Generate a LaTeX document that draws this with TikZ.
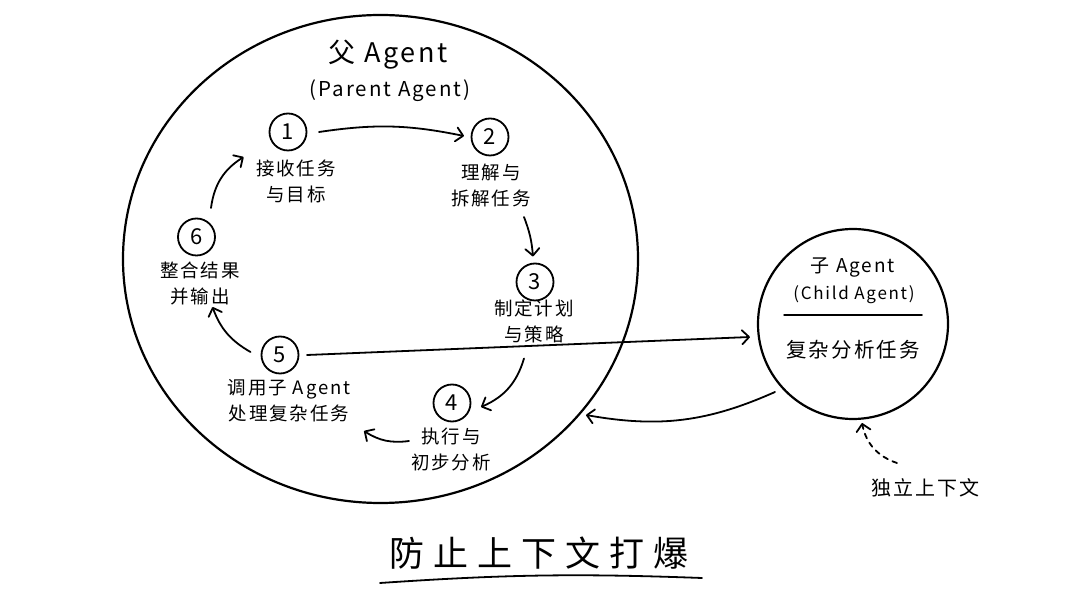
\documentclass[tikz,border=0pt]{standalone}
\usepackage{fontspec}
\setmainfont[LetterSpace=10]{Noto Sans CJK SC}
\usetikzlibrary{arrows.meta,shapes.geometric}
\begin{document}
\begin{tikzpicture}[x=1pt,y=1pt,line cap=round,line join=round,
  arr/.style={line width=1.8pt,-{Straight Barb[length=7pt,width=14pt,round]}},
  dasharr/.style={arr,dash pattern=on 5pt off 5pt},
  numc/.style={circle,draw,line width=1.8pt,minimum size=37pt,inner sep=0pt,font=\fontsize{22}{22}\selectfont},
  lbl/.style={align=center,inner sep=0pt,font=\fontsize{18.5}{26}\selectfont},
]
\useasboundingbox (0,0) rectangle (1080,608);
% parent agent
\node[ellipse,draw,line width=2.2pt,minimum width=515pt,minimum height=488pt,inner sep=0pt] (parent) at (380.5,349) {};
\node[font=\fontsize{27}{27}\selectfont] (ptitle) at (388,553) {父 Agent};
\node[font=\fontsize{20.5}{20.5}\selectfont] (psub) at (390,517) {(Parent Agent)};
% steps
\node[numc] (n1) at (288,476) {1};
\node[numc] (n2) at (490,471) {2};
\node[numc] (n3) at (535,326) {3};
\node[numc] (n4) at (452,205) {4};
\node[numc] (n5) at (280,253) {5};
\node[numc] (n6) at (196.5,371) {6};
\node[lbl] (l1) at (296,427) {接收任务\\与目标};
\node[lbl] (l2) at (491,422.5) {理解与\\拆解任务};
\node[lbl] (l3) at (534,286.5) {制定计划\\与策略};
\node[lbl] (l4) at (451,159) {执行与\\初步分析};
\node[lbl] (l5) at (289,207) {调用子 Agent\\处理复杂任务};
\node[lbl] (l6) at (200,324.5) {整合结果\\并输出};
% child agent
\node[circle,draw,line width=2.2pt,minimum size=190pt,inner sep=0pt] (child) at (853,284) {};
\node[font=\fontsize{19}{19}\selectfont] (ctitle) at (853,341) {子 Agent};
\node[font=\fontsize{17}{17}\selectfont] (csub) at (854,313) {(Child Agent)};
\coordinate (sl) at (784,293);
\coordinate (sr) at (922,293);
\draw[line width=1.5pt] (sl) -- (sr);
\node[font=\fontsize{20.5}{20.5}\selectfont] (ctask) at (853,258) {复杂分析任务};
\node[font=\fontsize{20}{20}\selectfont] (indep) at (925,120) {独立上下文};
% bottom title
\node[font=\fontsize{35}{35}\selectfont] (bottom) at (539,55) {防\hspace{9pt}止\hspace{9pt}上\hspace{9pt}下\hspace{9pt}文\hspace{9pt}打\hspace{9pt}爆};
\coordinate (ul) at (380,25);
\coordinate (ur) at (702,30);
\draw[line width=1.8pt] (ul) to[bend left=3] (ur);
% connectors
\draw[arr] ([shift={(31,0)}]n1.center) to[bend left=10] ([shift={(-26,1)}]n2.center);
\draw[arr] ([shift={(34,-80)}]n2.center) to[bend left=8] ([shift={(-2,25.5)}]n3.center);
\draw[arr] ([shift={(-11,-76.5)}]n3.center) to[bend left=25] ([shift={(29,-4)}]n4.center);
\draw[arr] ([shift={(-43,-38)}]n4.center) to[bend left=20] ([shift={(84,-76)}]n5.center);
\draw[arr] ([shift={(-29.5,3)}]n5.center) to[bend left=20] ([shift={(16,-70)}]n6.center);
\draw[arr] ([shift={(14.5,29)}]n6.center) to[bend left=25] ([shift={(-44.4,-25)}]n1.center);
\draw[arr] ([shift={(27,0)}]n5.center) -- ([shift={(-103,-13)}]child.center);
\draw[arr] ([shift={(-78,-68)}]child.center) to[bend left=17] ([shift={(205.5,-156)}]parent.center);
\draw[dasharr] ([shift={(-28,25)}]indep.center) to[bend left=30] ([shift={(9,-99)}]child.center);
\end{tikzpicture}
\end{document}
